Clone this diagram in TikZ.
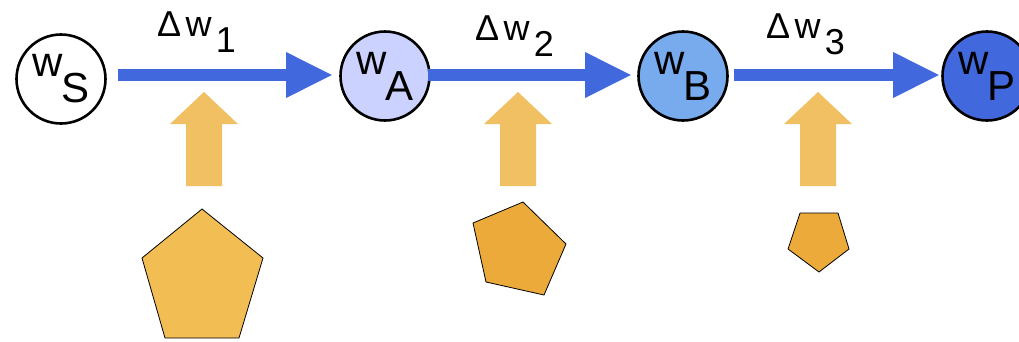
\documentclass[tikz,border=0pt]{standalone}
\usepackage{fontspec}
\setmainfont{Liberation Sans}
\usetikzlibrary{arrows.meta}

\definecolor{flowblue}{RGB}{66,104,222}
\definecolor{midblue}{RGB}{120,170,238}
\definecolor{paleblue}{RGB}{204,210,255}
\definecolor{pushorange}{RGB}{240,192,98}
\definecolor{bigpent}{RGB}{242,190,84}
\definecolor{smallpent}{RGB}{236,170,58}

% weight symbol with a full-size, lowered index
\newcommand\wgt[1]{w\kern-0.03em\raisebox{-0.62em}{#1}}
\newcommand\dwgt[1]{Δ\kern0.12em w\kern0.12em\raisebox{-0.46em}{#1}}

\tikzset{
  weight/.style={circle, draw=black, line width=2.6pt, minimum size=89pt,
    inner sep=0pt, font=\fontsize{42}{42}\selectfont},
  update/.style={draw=flowblue, line width=12.5pt,
    -{Triangle[length=47pt,width=42pt]}},
  steplabel/.style={inner sep=0pt, anchor=base west,
    font=\fontsize{36}{36}\selectfont},
  pushup/.style={fill=pushorange, draw=none},
  sample/.style={draw=black, line width=0.8pt, line join=miter},
}

\begin{document}
\begin{tikzpicture}[x=1pt, y=-1pt]
\useasboundingbox (0,0) rectangle (1019,341);

% weight states
\node[weight, fill=white]     (wS) at (61,79)  {\wgt{S}};
\node[weight, fill=paleblue]  (wA) at (385,76) {\wgt{A}};
\node[weight, fill=midblue]   (wB) at (683,76) {\wgt{B}};
\node[weight, fill=flowblue]  (wP) at (987,76) {\wgt{P}};

% update steps between the states
\draw[update, shorten <=11pt, shorten >=6pt] (wS.east |- 0,75) -- (wA.west |- 0,75);
\draw[update, shorten <=-3pt, shorten >=5pt] (wA.east |- 0,75) -- (wB.west |- 0,75);
\draw[update, shorten <=5pt, shorten >=1pt]  (wB.east |- 0,75) -- (wP.west |- 0,75);

\node[steplabel] (d1) at (157,36) {\dwgt{1}};
\node[steplabel] (d2) at (475,40) {\dwgt{2}};
\node[steplabel] (d3) at (766,38) {\dwgt{3}};

% block arrows feeding each step
\foreach \cx in {204,518,818}{
  \fill[pushup] (\cx,92) -- (\cx+34,124) -- (\cx+18,124) -- (\cx+18,186)
    -- (\cx-18,186) -- (\cx-18,124) -- (\cx-34,124) -- cycle;
}

% data samples, shrinking from step to step
\filldraw[sample, fill=bigpent] (202,209) -- (263,258) -- (239,338)
  -- (165,338) -- (142,258) -- cycle;
\filldraw[sample, fill=smallpent] (523,202) -- (566,244) -- (544,295)
  -- (486,282) -- (473,223) -- cycle;
\filldraw[sample, fill=smallpent] (800,213) -- (838,213) -- (849,249)
  -- (819,272) -- (788,249) -- cycle;
\end{tikzpicture}
\end{document}
